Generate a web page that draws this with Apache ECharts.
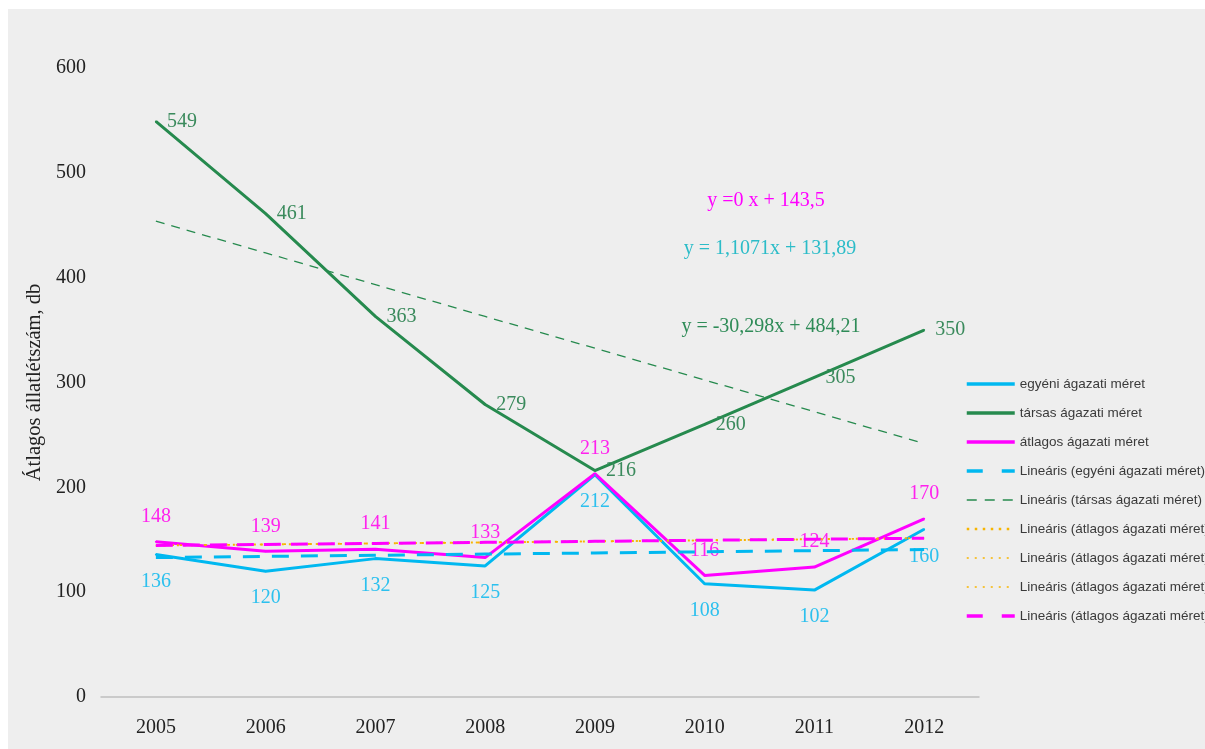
<!DOCTYPE html>
<html>
<head>
<meta charset="utf-8">
<script src="https://cdn.jsdelivr.net/npm/echarts@6/dist/echarts.min.js"></script>
<style>
html,body{margin:0;padding:0;background:#ffffff;width:1205px;height:749px;overflow:hidden;}
#c{position:absolute;left:8px;top:9px;width:1197px;height:740px;background:#eeeeee;}
</style>
</head>
<body>
<div id="c"></div>
<script>
const years = ['2005','2006','2007','2008','2009','2010','2011','2012'];
const egyeni = [136,120,132,125,212,108,102,160];
const tarsas = [549,461,363,279,216,260,305,350];
const atlagos = [148,139,141,133,213,116,124,170];
const egyeniTrend = [133.0,134.1,135.2,136.3,137.4,138.5,139.6,140.7];
const tarsasTrend = [453.9,423.6,393.3,363.0,332.7,302.4,272.1,241.8];
const atlagosTrend = [144.5,145.5,146.5,147.5,148.5,149.5,150.5,151.5];
const yTicks = [0,100,200,300,400,500,600];
const names = ['egyéni ágazati méret','társas ágazati méret','átlagos ágazati méret',
  'Lineáris (egyéni ágazati méret)','Lineáris (társas ágazati méret)',
  'Lineáris (átlagos ágazati méret)','Lineáris (átlagos ágazati méret)\u200b',
  'Lineáris (átlagos ágazati méret)\u200b\u200b','Lineáris (átlagos ágazati méret)\u200b\u200b\u200b'];
const equations = ['y =0 x + 143,5','y = 1,1071x + 131,89','y = -30,298x + 484,21'];

const C_EGY = '#00b8f0', C_TARS = '#268a4e', C_ATL = '#ff00ff', C_OR = '#f7b500';
const serif = 'Liberation Serif';

const chart = echarts.init(document.getElementById('c'));
function mainLine(name, data, color, labelColor, pos, dist){
  return {name, type:'line', data, symbol:'circle', symbolSize:2, showSymbol:true,
    itemStyle:{color}, lineStyle:{color, width:3}, z:3,
    label:{show:true, position:pos, distance:dist, color:labelColor,
      fontFamily:serif, fontSize:20}};
}
function trendLine(name, data, color, width, dash, z){
  return {name, type:'line', data, symbol:'none', silent:true, z,
    itemStyle:{color}, lineStyle:{color, width, type:dash}};
}
const legendStyles = [
  {color:C_EGY, width:3.5, type:'solid'},
  {color:C_TARS, width:3.5, type:'solid'},
  {color:C_ATL, width:3.5, type:'solid'},
  {color:C_EGY, width:3.5, type:[16,19]},
  {color:C_TARS, width:1.5, type:[10,8]},
  {color:C_OR, width:2.5, type:[2.5,5.5]},
  {color:C_OR, width:1.5, type:[2,6]},
  {color:C_OR, width:1.5, type:[2,6]},
  {color:C_ATL, width:3.5, type:[16,19]}
];
chart.setOption({
  animation:false,
  grid:{left:93, right:226, top:59, bottom:52},
  xAxis:{type:'category', data:years, boundaryGap:true,
    axisLine:{lineStyle:{color:'#bfbfbf', width:1.5}}, axisTick:{show:false},
    axisLabel:{color:'#222', fontFamily:serif, fontSize:20, margin:21}},
  yAxis:{type:'value', min:0, max:600, interval:100,
    name:'Átlagos állatlétszám, db', nameLocation:'middle', nameGap:51, nameRotate:90,
    nameTextStyle:{color:'#222', fontFamily:serif, fontSize:20.5},
    axisLine:{show:false}, axisTick:{show:false}, splitLine:{show:false},
    axisLabel:{color:'#222', fontFamily:serif, fontSize:20, margin:15,
      formatter:v=>yTicks.includes(v)?String(v):''}},
  legend:{orient:'vertical', left:957, top:368, padding:0, itemWidth:48, itemHeight:14, itemGap:15,
    data:names.map((n,i)=>({name:n, lineStyle:legendStyles[i]})), itemStyle:{opacity:0},
    textStyle:{color:'#3a3a3a', fontFamily:'Liberation Sans', fontSize:13.5}},
  series:[
    mainLine(names[0], egyeni, C_EGY, '#2cc0ee', 'bottom', 16),
    mainLine(names[1], tarsas, C_TARS, '#3a8a5c', 'right', 10),
    mainLine(names[2], atlagos, C_ATL, '#ff22ee', 'top', 14),
    trendLine(names[3], egyeniTrend, C_EGY, 3, [17,12], 5),
    trendLine(names[4], tarsasTrend, C_TARS, 1.3, [9,7], 5),
    trendLine(names[5], atlagosTrend, C_OR, 2, [2,5], 4),
    trendLine(names[6], atlagosTrend, C_OR, 1.5, [2,6], 4),
    trendLine(names[7], atlagosTrend, C_OR, 1.5, [2,6], 4),
    trendLine(names[8], atlagosTrend, C_ATL, 3, [17,10], 6)
  ],
  graphic:[
    {type:'text', x:758, y:192, style:{text:equations[0], fill:'#ff00ff', font:'20px "Liberation Serif"', textAlign:'center', textVerticalAlign:'middle'}},
    {type:'text', x:762, y:240, style:{text:equations[1], fill:'#2bbcc8', font:'20px "Liberation Serif"', textAlign:'center', textVerticalAlign:'middle'}},
    {type:'text', x:763, y:318, style:{text:equations[2], fill:'#2e8b57', font:'20px "Liberation Serif"', textAlign:'center', textVerticalAlign:'middle'}}
  ]
});
</script>
</body>
</html>
